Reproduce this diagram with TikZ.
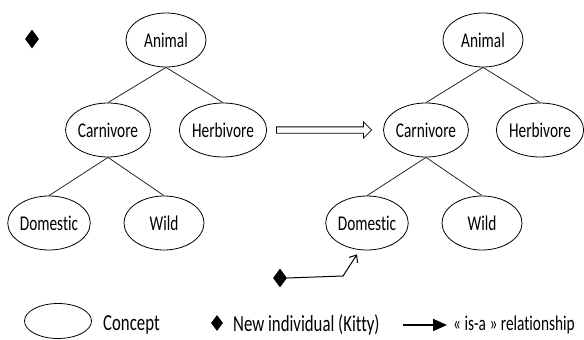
\documentclass[tikz,border=0pt]{standalone}
\usepackage{fontspec}
\setmainfont{Carlito}[FakeStretch=0.73, Ligatures=NoCommon]
\usetikzlibrary{arrows.meta,calc,positioning,shapes.arrows,shapes.geometric}
\tikzset{%
	concept/.style  = {draw, ellipse, line width = 0.8pt, minimum width = 80pt, minimum height = 54pt, inner sep = 0pt, font = \fontsize{21}{24}\selectfont}, % Concept
	indiv/.style    = {fill, diamond, minimum width = 14pt, minimum height = 19pt, inner sep = 0pt}, % Individual
	legtext/.style  = {anchor = west, inner sep = 0pt, font = \fontsize{23}{26}\selectfont}, % Legend text
	link/.style     = {line width = 0.8pt, black!85}, % Tree edge
	isa/.style      = {line width = 1pt, -{Straight Barb[length = 6pt, width = 10pt]}}, % is-a
}

\begin{document}
\begin{tikzpicture}[x = 1pt, y = -1pt]
	\useasboundingbox (0,0) rectangle (584,340);
	% before
	\node[indiv] (kitty1) at (32,39) {};
	\node[concept] (animal1) at (166,40) {Animal};
	\node[concept] (carn1) at (108,130) {Carnivore};
	\node[concept] (herb1) at (223,130) {Herbivore};
	\node[concept] (dom1) at (49,223) {Domestic};
	\node[concept] (wild1) at (164,223) {Wild};
	\draw[link] (animal1.south) -- (carn1.north);
	\draw[link] (animal1.south) -- (herb1.north);
	\draw[link] (carn1.south) -- (dom1.north);
	\draw[link] (carn1.south) -- (wild1.north);
	% transition
	\node[draw, single arrow, line width = 0.8pt, minimum height = 95pt, inner sep = 2.75pt,
		single arrow head extend = 5pt, single arrow tip angle = 90] (trans) at (322.5,130) {};
	% after
	\node[concept] (animal2) at (483,40) {Animal};
	\node[concept] (carn2) at (426,130) {Carnivore};
	\node[concept] (herb2) at (540,130) {Herbivore};
	\node[concept] (dom2) at (367,223) {Domestic};
	\node[concept] (wild2) at (482,223) {Wild};
	\draw[link] (animal2.south) -- (carn2.north);
	\draw[link] (animal2.south) -- (herb2.north);
	\draw[link] (carn2.south) -- (dom2.north);
	\draw[link] (carn2.south) -- (wild2.north);
	\node[indiv] (kitty2) at (280,278) {};
	\coordinate (bend) at (343,276);
	\draw[isa] (kitty2.east) -- (bend) -- ($(dom2.south)+(-10,4)$);
	% legend
	\node[concept, minimum width = 67pt, minimum height = 35pt] (legconcept) at (58,321) {};
	\node[legtext] (conceptlbl) at (103,325) {Concept};
	\node[indiv, minimum width = 12pt, minimum height = 16pt] (legindiv) at (217,323) {};
	\node[legtext] (indivlbl) at (233,325) {New individual (Kitty)};
	\coordinate (isastart) at (403,325);
	\node[legtext, font = \fontsize{21}{24}\selectfont] (isalbl) at (453,325) {« is-a » relationship};
	\draw[line width = 2pt, -{Triangle[length = 14pt, width = 12pt]}] (isastart) -- ([xshift = -6pt]isalbl.west);
\end{tikzpicture}
\end{document}
